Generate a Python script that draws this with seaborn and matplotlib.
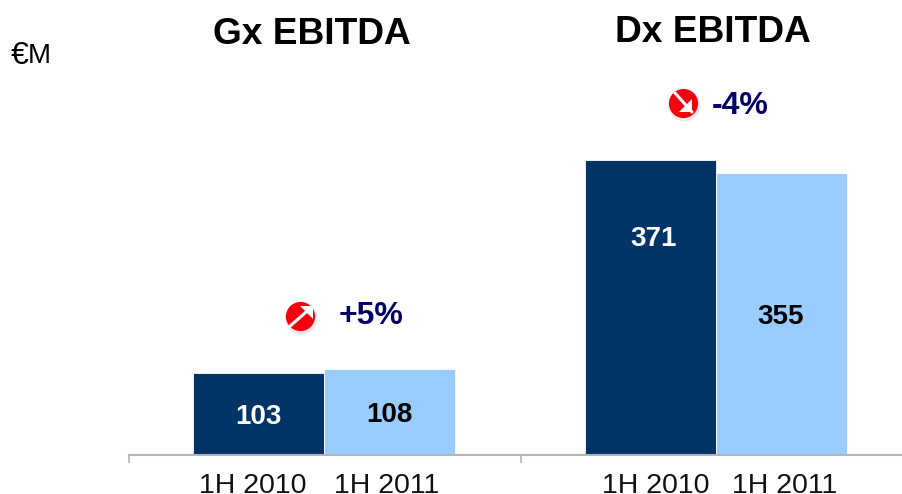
import pandas as pd
import matplotlib.pyplot as plt
import seaborn as sns
from matplotlib.transforms import IdentityTransform

# values
groups = ["Gx EBITDA", "Dx EBITDA"]
periods = ["1H 2010", "1H 2011"]
gx_values = [103, 108]
dx_values = [371, 355]
changes = ["+5%", "-4%"]

W, H = 902, 494

sns.set_theme(style="white")
plt.rcParams['font.family'] = ['Liberation Sans', 'DejaVu Sans']

data = pd.DataFrame({
    "group": [groups[0]] * 2 + [groups[1]] * 2,
    "period": periods * 2,
    "ebitda": gx_values + dx_values,
})

fig = plt.figure(figsize=(W / 100, H / 100), dpi=100)
ax = fig.add_axes([129 / W, (H - 455) / H, (W - 129) / W, 455 / H])

sns.barplot(data=data, x="group", y="ebitda", hue="period", hue_order=periods,
            palette=["#003366", "#99CCFF"], width=0.668, gap=0, saturation=1,
            edgecolor="white", linewidth=0.6, legend=False, ax=ax)

left = -0.497
ax.set_xlim(left, left + (W - 129) / 392)
ax.set_ylim(0, 455 / 0.794)
ax.set_xlabel("")
ax.set_ylabel("")
ax.set_yticks([])

sns.despine(ax=ax, left=True)
ax.spines["bottom"].set_color("#b4b4b4")
ax.spines["bottom"].set_linewidth(1.5)
ax.spines["bottom"].set_zorder(5)

# group separators as major ticks, period names as minor ticks
ax.set_xticks([left, left + 1])
ax.set_xticklabels([])
ax.tick_params(axis="x", which="major", bottom=True, length=6, width=1.2, color="#b4b4b4")
ax.set_xticks([-0.181, 0.159, 0.847, 1.176], minor=True)
ax.set_xticklabels(periods * 2, minor=True, fontsize=20.5, color="#111111")
ax.tick_params(axis="x", which="minor", bottom=True, length=0, pad=13)

# labels are not all centred in the bars, nudge them (points)
nudges = [[(0, -2.2), (2, 49.7)], [(0, -2.2), (-0.7, -2.2)]]
for container, colour, nudge in zip(ax.containers, ["white", "black"], nudges):
    labels = ax.bar_label(container, label_type="center", color=colour, fontsize=20, fontweight="bold")
    for lab, off in zip(labels, nudge):
        lab.xyann = off


def fig_text(x, y, s, **kw):
    fig.text(x / W, 1 - y / H, s, va="center", **kw)


def badge(x, y, up):
    # red round icon with a white arrow, all in pixels
    tr = IdentityTransform()
    ax.plot([x + 0.5], [H - y - 1.5], "o", ms=23, color="#e8e8e8", mec="none", transform=tr, clip_on=False)
    ax.plot([x], [H - y], "o", ms=21, color="#f5000f", mec="none", transform=tr, clip_on=False)
    if up:
        tip = (x + 13, H - y + 10)
        start = (x - 11, H - y - 11)
        head = [tip, (tip[0] - 13, tip[1]), (tip[0], tip[1] - 13)]
    else:
        tip = (x + 9, H - y - 9)
        start = (x - 8, H - y + 10)
        head = [tip, (tip[0] - 13, tip[1]), (tip[0], tip[1] + 13)]
    ax.plot([start[0], tip[0]], [start[1], tip[1]], color="white", lw=2.2, transform=tr, clip_on=False)
    ax.fill([p[0] for p in head], [p[1] for p in head], color="white", lw=0, transform=tr, clip_on=False, zorder=3)


fig_text(312, 34, groups[0], ha="center", fontsize=26.7, fontweight="bold", color="black")
fig_text(713, 32, groups[1], ha="center", fontsize=26.7, fontweight="bold", color="black")

fig_text(371, 316, changes[0], ha="center", fontsize=23, fontweight="bold", color="#000066")
fig_text(740, 106, changes[1], ha="center", fontsize=23, fontweight="bold", color="#000066")
badge(300, 316, True)
badge(683, 103, False)

# euro sign and M overlap in the picture
fig_text(11, 56, "€", ha="left", fontsize=23, color="black")
fig_text(51, 56, "M", ha="right", fontsize=20, color="black")

fig.savefig("out.png", dpi=100)
